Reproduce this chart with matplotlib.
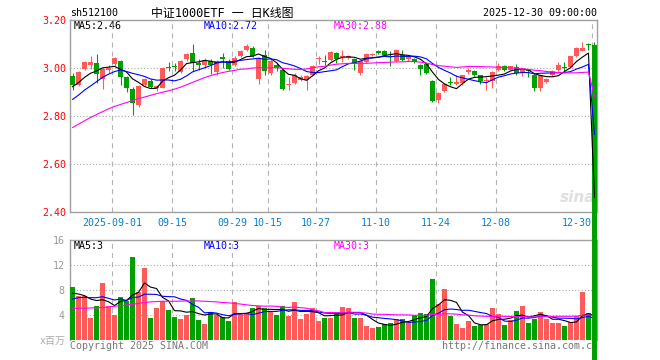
import matplotlib
matplotlib.use('Agg')
import matplotlib.pyplot as plt
import numpy as np
import pandas as pd

plt.rcParams['font.family'] = ['DejaVu Sans Mono', 'Noto Sans CJK SC']
plt.rcParams['lines.scale_dashes'] = False

# trading days on the chart (Oct 1-8 is the national holiday)
days = pd.bdate_range('2025-08-21', '2025-12-30')
days = days[(days < '2025-10-01') | (days > '2025-10-08')]
days = [d.strftime('%Y-%m-%d') for d in days]

opens = [2.967, 2.929, 2.994, 3.012, 3.019, 2.954, 2.990, 3.017, 3.029, 2.964,
         2.913, 2.846, 2.929, 2.947, 2.917, 2.917, 3.003, 3.007, 2.985, 3.039,
         3.062, 3.021, 3.014, 3.030, 2.983, 3.046, 3.028, 3.014, 3.049, 3.076,
         3.083, 2.956, 3.056, 2.979, 3.014, 2.993, 2.931, 2.937, 2.951, 2.951,
         2.972, 3.036, 3.030, 3.035, 3.062, 3.047, 3.042, 3.039, 2.979, 3.025,
         3.053, 3.069, 3.069, 3.050, 3.028, 3.053, 3.039, 3.039, 3.014, 3.017,
         2.947, 2.868, 2.906, 2.940, 2.935, 2.937, 2.983, 2.986, 2.969, 2.944,
         2.947, 2.993, 3.007, 2.993, 3.003, 2.979, 2.990, 2.969, 2.917, 2.942,
         2.972, 2.993, 3.004, 3.003, 3.049, 3.072, 3.097, 3.094]
highs = [2.978, 2.988, 3.030, 3.050, 3.058, 3.000, 3.012, 3.047, 3.035, 2.968,
         2.920, 2.930, 2.958, 2.955, 2.931, 3.005, 3.025, 3.021, 3.035, 3.062,
         3.100, 3.039, 3.040, 3.039, 3.035, 3.062, 3.039, 3.050, 3.075, 3.100,
         3.090, 3.044, 3.076, 3.036, 3.020, 2.997, 2.961, 2.979, 2.969, 2.972,
         3.011, 3.049, 3.053, 3.069, 3.066, 3.076, 3.055, 3.040, 3.032, 3.062,
         3.062, 3.076, 3.076, 3.069, 3.080, 3.076, 3.053, 3.040, 3.017, 3.020,
         2.950, 2.900, 2.936, 2.961, 2.969, 2.972, 3.000, 2.990, 2.970, 2.961,
         2.986, 3.021, 3.014, 3.010, 3.017, 2.997, 2.993, 2.979, 2.972, 2.958,
         2.993, 3.025, 3.025, 3.050, 3.087, 3.110, 3.104, 3.110]
lows = [2.908, 2.926, 2.990, 2.995, 2.936, 2.913, 2.978, 3.010, 2.929, 2.899,
        2.804, 2.839, 2.925, 2.915, 2.903, 2.915, 2.986, 2.986, 2.980, 3.028,
        2.986, 2.993, 3.000, 2.975, 2.972, 3.000, 2.993, 3.010, 3.045, 3.070,
        3.044, 2.933, 2.969, 2.970, 2.986, 2.907, 2.910, 2.933, 2.944, 2.910,
        2.969, 3.017, 3.011, 3.031, 3.021, 3.025, 3.036, 2.993, 2.970, 3.020,
        3.049, 3.058, 3.049, 3.007, 3.025, 3.030, 3.028, 3.021, 2.972, 2.975,
        2.858, 2.854, 2.900, 2.930, 2.930, 2.930, 2.975, 2.965, 2.933, 2.910,
        2.917, 2.986, 2.986, 2.990, 2.972, 2.965, 2.961, 2.906, 2.906, 2.938,
        2.965, 2.986, 2.986, 3.000, 3.045, 3.069, 3.076, 0.000]
closes = [2.929, 2.985, 3.024, 3.026, 2.974, 2.994, 3.000, 3.040, 2.964, 2.918,
          2.853, 2.926, 2.953, 2.922, 2.924, 3.000, 3.000, 3.004, 3.030, 3.058,
          3.021, 3.014, 3.035, 3.014, 3.030, 3.039, 2.996, 3.042, 3.069, 3.090,
          3.049, 3.042, 2.989, 3.031, 3.000, 2.914, 2.934, 2.969, 2.961, 2.965,
          3.007, 3.040, 3.027, 3.067, 3.039, 3.050, 3.049, 3.017, 3.028, 3.058,
          3.058, 3.062, 3.055, 3.047, 3.076, 3.035, 3.049, 3.025, 2.997, 2.979,
          2.864, 2.896, 2.933, 2.937, 2.940, 2.969, 2.990, 2.969, 2.944, 2.948,
          2.983, 3.007, 2.993, 3.007, 2.979, 2.993, 2.986, 2.917, 2.969, 2.955,
          2.989, 3.011, 3.002, 3.049, 3.083, 3.083, 3.094, 0.000]
# volume, millions of shares
volume = [8.48, 7.04, 7.04, 3.57, 5.44, 9.12, 5.44, 4.00, 6.88, 6.24,
          13.33, 7.63, 11.57, 3.57, 5.07, 6.24, 4.85, 3.73, 3.41, 4.00,
          6.77, 3.20, 2.61, 4.27, 4.00, 3.73, 3.04, 6.08, 4.27, 4.27,
          5.17, 5.44, 5.17, 4.53, 4.00, 5.44, 3.84, 6.08, 3.41, 4.16,
          5.17, 3.04, 3.57, 3.57, 4.53, 5.33, 5.07, 3.57, 3.57, 2.29,
          1.97, 2.13, 2.51, 2.72, 3.36, 3.36, 2.83, 4.00, 4.32, 4.21,
          9.76, 5.76, 8.16, 3.84, 2.56, 1.97, 3.04, 2.24, 2.40, 2.56,
          5.12, 4.16, 2.40, 3.20, 4.64, 5.44, 2.72, 3.36, 4.48, 3.36,
          2.72, 2.72, 2.24, 2.93, 3.84, 7.73, 4.32, 0.50]

# first points of the averages depend on days before the window
ma5_head = [2.922, 2.939, 2.961, 2.978]
ma10_head = [2.869, 2.887, 2.908, 2.925, 2.943, 2.961, 2.974, 2.985, 2.992]
ma30_head = [2.752, 2.766, 2.780, 2.794, 2.806, 2.818, 2.830, 2.840, 2.848, 2.856,
             2.864, 2.872, 2.879, 2.886, 2.893, 2.899, 2.905, 2.912, 2.920, 2.930,
             2.940, 2.950, 2.960, 2.968, 2.975, 2.981, 2.986, 2.990, 2.995]
vma5_head = [7.47, 7.36, 7.09, 6.56]
vma10_head = [6.56, 6.77, 6.83, 6.77, 6.77, 6.93, 6.67, 6.40, 6.56]
vma30_head = [5.07, 5.08, 5.10, 5.12, 5.15, 5.20, 5.30, 5.40, 5.50, 5.60,
              5.70, 5.85, 6.00, 6.10, 6.15, 6.20, 6.20, 6.20, 6.22, 6.25,
              6.25, 6.25, 6.20, 6.15, 6.10, 6.00, 5.95, 5.85, 5.75]

tick_days = ['2025-09-01', '2025-09-15', '2025-09-29', '2025-10-15', '2025-10-27',
             '2025-11-10', '2025-11-24', '2025-12-08', '2025-12-30']
tick_labels = ['2025-09-01', '09-15', '09-29', '10-15', '10-27',
               '11-10', '11-24', '12-08', '12-30']
price_ticks = [2.40, 2.60, 2.80, 3.00, 3.20]
vol_ticks = [4, 8, 12, 16]


def moving(values, n, head):
    s = pd.Series(values).rolling(n).mean()
    s.iloc[:len(head)] = head
    return s.values


RED = '#ff5a5a'
GREEN = '#00a000'
FRAME = '#a0a0a0'
GRID = '#b4b4b4'
W, H = 660, 360


def box(l, t, r, b):
    return [l / W, 1 - b / H, (r - l) / W, (b - t) / H]


opens = np.array(opens)
closes = np.array(closes)
x = np.arange(len(days))
colors = np.where(closes >= opens, RED, GREEN)
tick_x = [days.index(d) - 0.4 for d in tick_days]

fig = plt.figure(figsize=(6.6, 3.6), dpi=100)
ax = fig.add_axes(box(70, 20, 597, 212))
axv = fig.add_axes(box(70, 240, 597, 340))
ax.set_zorder(5)
ax.patch.set_alpha(0)

# --- price panel
ax.vlines(x, lows, highs, colors=colors, lw=0.8, clip_on=False, zorder=3)
ax.bar(x, np.maximum(np.abs(closes - opens), 0.004), 0.83,
       bottom=np.minimum(opens, closes), color=colors, lw=0, clip_on=False, zorder=3)
ma5 = moving(closes, 5, ma5_head)
ma10 = moving(closes, 10, ma10_head)
ma30 = moving(closes, 30, ma30_head)
ax.plot(x, ma5, color='black', lw=0.8, zorder=4)
ax.plot(x, ma10, color='#0000ff', lw=0.8, zorder=4)
ax.plot(x, ma30, color='#ff00ff', lw=0.8, zorder=4)

ax.set_xlim(-0.42, len(days) - 1 + 0.42)
ax.set_ylim(2.4, 3.2)
for t in tick_x:
    ax.axvline(t, color=GRID, lw=0.8, dashes=(3.6, 3), zorder=1)
for p in price_ticks[1:-1]:
    ax.axhline(p, color='#aaaaaa', lw=0.8, dashes=(0.8, 1.5), zorder=1)
ax.set_yticks(price_ticks)
ax.set_yticklabels([f'{p:.2f}' for p in price_ticks])
ax.tick_params(axis='y', length=0, pad=3, labelsize=7.2, labelcolor='#ff0000')
ax.set_xticks(tick_x)
ax.set_xticklabels(tick_labels)
ax.tick_params(axis='x', length=0, pad=4, labelsize=7.2, labelcolor='#0a80cc')
ax.get_xticklabels()[-1].set_ha('right')
for s in ax.spines.values():
    s.set_color(FRAME)
    s.set_linewidth(1)

ax.text((578 - 70) / 527, (212 - 197) / 192, 'sina', transform=ax.transAxes,
        fontsize=11, style='italic', weight='bold', color='#e0e0e0',
        family='DejaVu Sans', ha='center', va='center', zorder=0)

# --- volume panel
volume = np.array(volume)
axv.bar(x, volume, 0.83, color=colors, lw=0, zorder=3)
vma5 = moving(volume, 5, vma5_head)
vma10 = moving(volume, 10, vma10_head)
vma30 = moving(volume, 30, vma30_head)
axv.plot(x, vma5, color='black', lw=0.8, zorder=4)
axv.plot(x, vma10, color='#0000ff', lw=0.8, zorder=4)
axv.plot(x, vma30, color='#ff00ff', lw=0.8, zorder=4)
axv.set_xlim(ax.get_xlim())
axv.set_ylim(0, 16)
for t in tick_x:
    axv.axvline(t, color=GRID, lw=0.8, dashes=(3.6, 3), zorder=1)
for v in vol_ticks[:-1]:
    axv.axhline(v, color='#aaaaaa', lw=0.8, dashes=(0.8, 1.5), zorder=1)
axv.set_xticks([])
axv.set_yticks(vol_ticks)
axv.tick_params(axis='y', length=0, pad=4, labelsize=7.2, labelcolor='#999999')
for s in axv.spines.values():
    s.set_color(FRAME)
    s.set_linewidth(1)
axv.spines['bottom'].set_visible(False)

# --- header and labels
def label(px, py, s, **kw):
    kw.setdefault('fontsize', 7.2)
    kw.setdefault('va', 'center')
    fig.text(px / W, 1 - py / H, s, **kw)


label(70, 13, 'sh512100')
label(222, 13, '中证1000ETF 一 日K线图', fontsize=8.6, ha='center')
label(597, 13, '2025-12-30 09:00:00', ha='right')
label(74, 26, f'MA5:{ma5[-1]:.2f}', color='black')
label(204, 26, f'MA10:{ma10[-1]:.2f}', color='#0000ff')
label(334, 26, f'MA30:{ma30[-1]:.2f}', color='#ff00ff')
label(74, 246, f'MA5:{int(vma5[-1])}', color='black')
label(204, 246, f'MA10:{int(vma10[-1])}', color='#0000ff')
label(334, 246, f'MA30:{int(vma30[-1])}', color='#ff00ff')
label(66, 341, 'x百万', ha='right', color='#aaaaaa')
label(70, 346, 'Copyright 2025 SINA.COM', color='#777777')
label(598, 346, 'http://finance.sina.com.cn', ha='right', color='#777777')

fig.savefig('out.png', dpi=100)
